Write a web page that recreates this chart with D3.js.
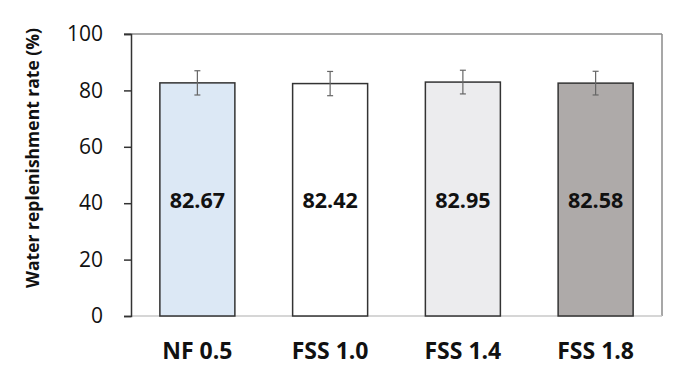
<!DOCTYPE html>
<html><head><meta charset="utf-8">
<script src="https://cdn.jsdelivr.net/npm/d3@7"></script>
<style>body{margin:0;background:#fff}svg{display:block}text{font-family:"Open Sans",Lato,sans-serif}</style>
</head><body><svg id="c" width="690" height="382"></svg>
<script>
const categories = ["NF 0.5","FSS 1.0","FSS 1.4","FSS 1.8"];
const values = [82.67, 82.42, 82.95, 82.58];
const errors = [4.3, 4.3, 4.2, 4.2];
const yTicks = [0,20,40,60,80,100];
const colors = ["#dce8f5","#ffffff","#ececee","#aeaaa9"];

const svg = d3.select("#c");
const m = {l:131, r:662, t:34, b:316};
const x = d3.scaleBand().domain(categories).range([m.l, m.r]).paddingInner(0.435).paddingOuter(0.2175);
const y = d3.scaleLinear().domain([0,100]).range([m.b, m.t]);

// box
svg.append("line").attr("x1",m.l-7).attr("x2",m.r).attr("y1",m.t).attr("y2",m.t).attr("stroke","#8a8a8a").attr("stroke-width",1.5);
svg.append("line").attr("x1",m.r).attr("x2",m.r).attr("y1",m.t).attr("y2",m.b).attr("stroke","#8a8a8a").attr("stroke-width",1.5);
svg.append("line").attr("x1",m.l).attr("x2",m.r).attr("y1",m.b).attr("y2",m.b).attr("stroke","#c8c8c8").attr("stroke-width",1.5);

// y axis
const ya = svg.append("g").attr("transform",`translate(${m.l},0)`)
  .call(d3.axisLeft(y).tickValues(yTicks).tickSize(7).tickPadding(21));
ya.select(".domain").attr("stroke","#333").attr("stroke-width",1.5);
ya.selectAll(".tick line").attr("stroke","#333").attr("stroke-width",1.5);
ya.selectAll(".tick text").attr("font-size",21).attr("fill","#111").style("font-family","'Open Sans',sans-serif");

// bars
svg.selectAll("rect.bar").data(values).join("rect").attr("class","bar")
  .attr("x",(d,i)=>x(categories[i])).attr("width",x.bandwidth())
  .attr("y",d=>y(d)).attr("height",d=>y(0)-y(d))
  .attr("fill",(d,i)=>colors[i]).attr("stroke","#333").attr("stroke-width",1.5);

// error bars
const eb = svg.append("g").attr("stroke","#666").attr("stroke-width",1.2);
values.forEach((v,i)=>{
  const cx = x(categories[i]) + x.bandwidth()/2;
  eb.append("line").attr("x1",cx).attr("x2",cx).attr("y1",y(v+errors[i])).attr("y2",y(v-errors[i]));
  eb.append("line").attr("x1",cx-3).attr("x2",cx+3).attr("y1",y(v+errors[i])).attr("y2",y(v+errors[i]));
  eb.append("line").attr("x1",cx-3).attr("x2",cx+3).attr("y1",y(v-errors[i])).attr("y2",y(v-errors[i]));
});

// value labels
svg.selectAll("text.val").data(values).join("text").attr("class","val")
  .attr("x",(d,i)=>x(categories[i])+x.bandwidth()/2).attr("y",208)
  .attr("text-anchor","middle").attr("font-size",21.5).attr("font-weight","bold").attr("fill","#111")
  .text(d=>d.toFixed(2));

// category labels
svg.selectAll("text.cat").data(categories).join("text").attr("class","cat")
  .attr("x",d=>x(d)+x.bandwidth()/2).attr("y",359)
  .attr("text-anchor","middle").attr("font-size",23).attr("font-weight","bold").attr("fill","#111")
  .text(d=>d);

// y title
svg.append("text").attr("transform","translate(39,158) rotate(-90)")
  .attr("text-anchor","middle").attr("font-size",17.5).attr("font-weight","bold").attr("fill","#111")
  .text("Water replenishment rate (%)");
</script></body></html>
